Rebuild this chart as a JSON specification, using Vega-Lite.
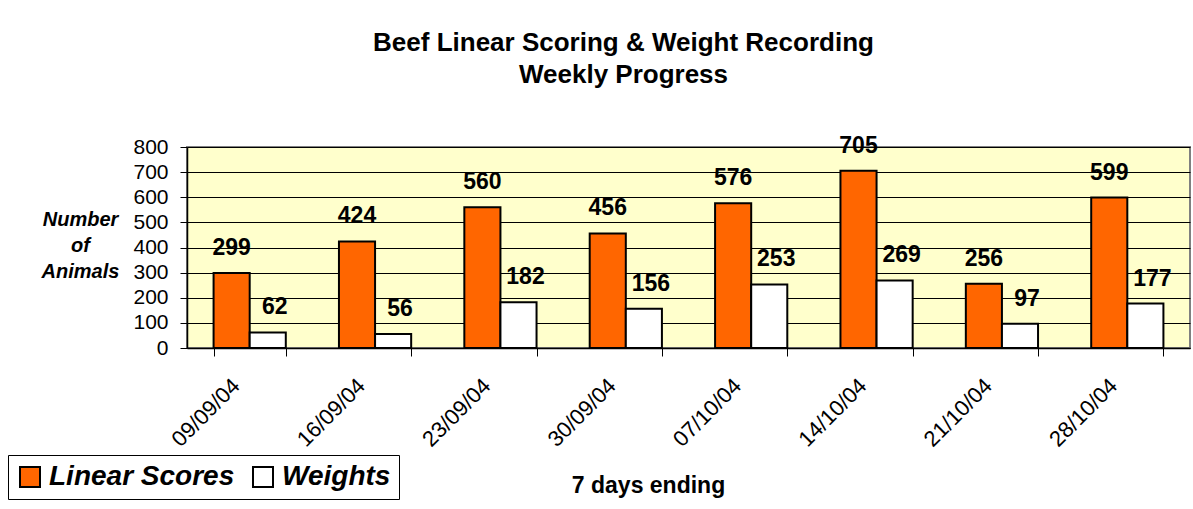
{
  "$schema": "https://vega.github.io/schema/vega-lite/v6.json",
  "autosize": "none",
  "width": 1003,
  "height": 201,
  "padding": {"left": 187, "top": 147, "right": 3, "bottom": 161},
  "background": "white",
  "config": {
    "font": "Liberation Sans",
    "view": {"fill": "#FFFFCC", "stroke": "#808080", "strokeWidth": 2}
  },
  "title": {
    "text": ["Beef Linear Scoring & Weight Recording", "Weekly Progress"],
    "fontSize": 26,
    "fontWeight": "bold",
    "color": "black",
    "anchor": "middle",
    "dx": -65,
    "offset": 47,
    "lineHeight": 32
  },
  "data": {
    "values": [
      {"week": "09/09/04", "series": "Linear Scores", "value": 299},
      {"week": "09/09/04", "series": "Weights", "value": 62},
      {"week": "16/09/04", "series": "Linear Scores", "value": 424},
      {"week": "16/09/04", "series": "Weights", "value": 56},
      {"week": "23/09/04", "series": "Linear Scores", "value": 560},
      {"week": "23/09/04", "series": "Weights", "value": 182},
      {"week": "30/09/04", "series": "Linear Scores", "value": 456},
      {"week": "30/09/04", "series": "Weights", "value": 156},
      {"week": "07/10/04", "series": "Linear Scores", "value": 576},
      {"week": "07/10/04", "series": "Weights", "value": 253},
      {"week": "14/10/04", "series": "Linear Scores", "value": 705},
      {"week": "14/10/04", "series": "Weights", "value": 269},
      {"week": "21/10/04", "series": "Linear Scores", "value": 256},
      {"week": "21/10/04", "series": "Weights", "value": 97},
      {"week": "28/10/04", "series": "Linear Scores", "value": 599},
      {"week": "28/10/04", "series": "Weights", "value": 177}
    ]
  },
  "encoding": {
    "x": {
      "field": "week",
      "type": "nominal",
      "sort": null,
      "scale": {"paddingInner": 0.424, "paddingOuter": 0.212},
      "axis": {
        "title": "7 days ending",
        "titleFontSize": 23,
        "titleFontWeight": "bold",
        "titleColor": "black",
        "titleX": 461,
        "titleY": 144,
        "titleBaseline": "alphabetic",
        "titleAnchor": "middle",
        "labelAngle": -45,
        "labelAlign": "right",
        "labelBaseline": "middle",
        "labelFontSize": 22,
        "labelColor": "black",
        "labelOffset": -14,
        "labelPadding": 26,
        "tickBand": "extent",
        "tickSize": 8,
        "tickColor": "black",
        "domainColor": "black",
        "domainWidth": 1.5,
        "grid": false
      }
    },
    "xOffset": {
      "field": "series",
      "type": "nominal",
      "scale": {"paddingInner": 0, "paddingOuter": 0}
    },
    "y": {
      "field": "value",
      "type": "quantitative",
      "scale": {"domain": [0, 800], "nice": false},
      "axis": {
        "values": [0, 100, 200, 300, 400, 500, 600, 700, 800],
        "title": ["Number", "of", "Animals"],
        "titleAngle": 0,
        "titleAlign": "center",
        "titleBaseline": "alphabetic",
        "titleX": -107,
        "titleY": 78,
        "titleLineHeight": 26,
        "titleFontSize": 20,
        "titleFontStyle": "italic",
        "titleFontWeight": "bold",
        "titleColor": "black",
        "labelFontSize": 21,
        "labelColor": "black",
        "labelPadding": 12,
        "tickSize": 7,
        "tickColor": "black",
        "domainColor": "black",
        "domainWidth": 1.5,
        "gridColor": "black",
        "gridOpacity": 1,
        "gridWidth": 1
      }
    }
  },
  "layer": [
    {
      "mark": {"type": "bar", "stroke": "black", "strokeWidth": 2, "opacity": 1},
      "encoding": {
        "color": {
          "field": "series",
          "type": "nominal",
          "scale": {"domain": ["Linear Scores", "Weights"], "range": ["#FF6600", "#FFFFFF"]},
          "legend": {
            "title": null,
            "orient": "none",
            "legendX": -179,
            "legendY": 308,
            "direction": "horizontal",
            "strokeColor": "black",
            "fillColor": "white",
            "padding": 8,
            "symbolType": "square",
            "symbolSize": 400,
            "symbolStrokeColor": "black",
            "symbolStrokeWidth": 2,
            "symbolOpacity": 1,
            "labelFontSize": 28,
            "labelFontStyle": "italic",
            "labelFontWeight": "bold",
            "labelColor": "black",
            "labelLimit": 0,
            "labelOffset": 5,
            "columnPadding": 14
          }
        }
      }
    },
    {
      "transform": [{"filter": "datum.series === 'Linear Scores'"}],
      "mark": {"type": "text", "fontSize": 23, "fontWeight": "bold", "baseline": "alphabetic", "dy": -18, "color": "black"},
      "encoding": {"text": {"field": "value", "type": "quantitative"}}
    },
    {
      "transform": [{"filter": "datum.series === 'Weights'"}],
      "mark": {"type": "text", "fontSize": 23, "fontWeight": "bold", "baseline": "alphabetic", "dy": -18, "dx": 7, "color": "black"},
      "encoding": {"text": {"field": "value", "type": "quantitative"}}
    }
  ]
}
